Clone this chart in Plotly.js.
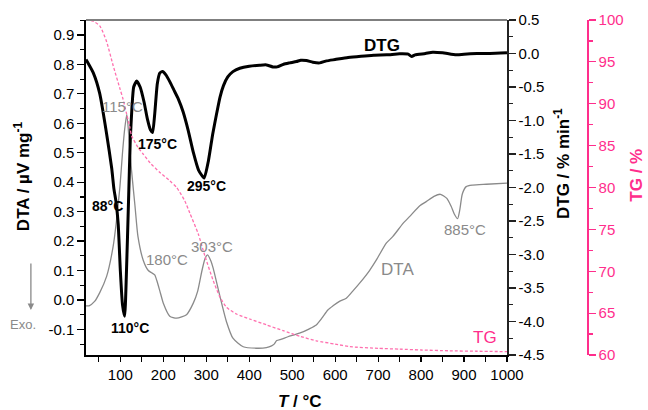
<!DOCTYPE html>
<html>
<head>
<meta charset="utf-8">
<script src="https://cdn.plot.ly/plotly-3.0.1.min.js"></script>
<style>
  html, body { margin: 0; padding: 0; background: #fff; }
  #chart { width: 648px; height: 410px; }
</style>
</head>
<body>
<div id="chart"></div>
<script>
// Temperature (°C) and DTA signal (µV/mg)
const tDTA = [20, 27, 40, 52, 68, 83, 91, 99, 105, 110, 115, 120, 126, 134, 141, 153, 165, 172, 180, 185, 192, 200, 215, 231, 254, 270, 280, 290, 297, 303, 310, 316, 331, 347, 362, 386, 417, 440, 452, 458, 464, 475, 490, 517, 540, 556, 570, 583, 595, 610, 626, 641, 657, 680, 696, 719, 734, 758, 773, 797, 812, 830, 845, 860, 870, 877, 885, 890, 896, 905, 920, 952, 1000];
const dta = [-0.02, -0.02, -0.005, 0.025, 0.08, 0.18, 0.27, 0.385, 0.5, 0.58, 0.63, 0.55, 0.44, 0.32, 0.215, 0.136, 0.10, 0.093, 0.085, 0.065, 0.03, -0.011, -0.055, -0.062, -0.05, -0.01, 0.03, 0.1, 0.14, 0.153, 0.135, 0.108, 0.017, -0.074, -0.13, -0.159, -0.164, -0.162, -0.156, -0.15, -0.138, -0.133, -0.125, -0.113, -0.098, -0.085, -0.06, -0.034, -0.02, -0.005, 0.006, 0.03, 0.057, 0.10, 0.136, 0.193, 0.215, 0.26, 0.283, 0.32, 0.334, 0.352, 0.359, 0.345, 0.318, 0.293, 0.276, 0.305, 0.36, 0.385, 0.39, 0.393, 0.397];

// Temperature (°C) and DTG (% / min)
const tDTG = [20, 37, 52, 68, 80, 85, 90, 95, 100, 105, 110, 114, 119, 123, 127, 131, 138, 146, 155, 163, 170, 175, 180, 186, 192, 198, 206, 215, 225, 235, 246, 258, 270, 282, 295, 305, 315, 324, 332, 340, 350, 362, 378, 400, 424, 440, 455, 465, 480, 494, 510, 520, 533, 548, 564, 580, 600, 630, 660, 690, 720, 750, 770, 778, 786, 810, 827, 850, 870, 885, 900, 930, 960, 1000];
const dtg = [-0.09, -0.29, -0.6, -1.2, -1.72, -2.02, -2.22, -2.55, -3.25, -3.75, -3.92, -3.3, -2.2, -1.3, -0.8, -0.5, -0.41, -0.5, -0.72, -0.98, -1.14, -1.18, -0.9, -0.45, -0.29, -0.27, -0.32, -0.42, -0.55, -0.68, -0.87, -1.15, -1.48, -1.74, -1.86, -1.6, -1.2, -0.9, -0.65, -0.48, -0.35, -0.27, -0.22, -0.19, -0.175, -0.17, -0.2, -0.2, -0.16, -0.14, -0.12, -0.10, -0.105, -0.13, -0.14, -0.11, -0.09, -0.06, -0.04, -0.025, -0.02, -0.005, -0.01, -0.045, -0.02, 0.0, 0.02, 0.01, -0.01, -0.02, -0.01, 0.0, 0.0, 0.01];

// Temperature (°C) and TG mass (%)
const tTG = [20, 35, 52, 68, 83, 99, 106, 114, 122, 126, 141, 153, 170, 192, 215, 231, 250, 262, 281, 297, 316, 331, 347, 370, 401, 440, 479, 520, 556, 600, 634, 700, 750, 800, 866, 930, 1000];
const tg = [100, 99.9, 99.3, 97.4, 94.6, 91.8, 90.6, 88.9, 87.2, 86.2, 84.8, 84.0, 82.9, 81.8, 80.8, 80.0, 78.4, 76.9, 74.5, 71.8, 68.9, 67.0, 65.7, 64.9, 64.3, 63.6, 62.9, 62.2, 61.7, 61.3, 61.0, 60.8, 60.7, 60.6, 60.5, 60.45, 60.4];

// Tick labels
const xTicks = [100, 200, 300, 400, 500, 600, 700, 800, 900, 1000];
const dtaTicks = [-0.1, 0.0, 0.1, 0.2, 0.3, 0.4, 0.5, 0.6, 0.7, 0.8, 0.9];
const dtaTickText = ['-0.1', '0.0', '0.1', '0.2', '0.3', '0.4', '0.5', '0.6', '0.7', '0.8', '0.9'];
const dtgTicks = [-4.5, -4.0, -3.5, -3.0, -2.5, -2.0, -1.5, -1.0, -0.5, 0.0, 0.5];
const dtgTickText = ['-4.5', '-4.0', '-3.5', '-3.0', '-2.5', '-2.0', '-1.5', '-1.0', '-0.5', '0.0', '0.5'];
const tgTicks = [60, 65, 70, 75, 80, 85, 90, 95, 100];

// Peak labels: [T, DTA-axis height, text, colour, size, bold]
const peakLabels = [
  [708, 0.863, 'DTG', '#000', 17, true],
  [106, 0.656, '115°C', '#8a8a8a', 15, false],
  [187, 0.53, '175°C', '#000', 14, true],
  [301, 0.386, '295°C', '#000', 14, true],
  [71, 0.319, '88°C', '#000', 14, true],
  [122, -0.095, '110°C', '#000', 14, true],
  [208, 0.136, '180°C', '#8a8a8a', 15, false],
  [313, 0.18, '303°C', '#8a8a8a', 15, false],
  [744, 0.102, 'DTA', '#8a8a8a', 17, false],
  [902, 0.238, '885°C', '#8a8a8a', 15, false],
  [948, -0.126, 'TG', '#ff2e8c', 17, false]
];

const FONT = 'Liberation Sans, Arial, Helvetica, sans-serif';
const PINK = '#ff2e8c';
const GREY = '#8a8a8a';
const XDOM = 0.8403;

const traces = [
  {
    x: tDTA, y: dta, type: 'scatter', mode: 'lines', yaxis: 'y',
    line: { color: GREY, width: 1.3, shape: 'spline', smoothing: 0.6 }
  },
  {
    x: tTG, y: tg, type: 'scatter', mode: 'lines', yaxis: 'y3',
    line: { color: '#ff6fae', width: 1.3, dash: '3px,2px', shape: 'spline', smoothing: 0.6 }
  },
  {
    x: tDTG, y: dtg, type: 'scatter', mode: 'lines', yaxis: 'y2',
    line: { color: '#000', width: 3, shape: 'spline', smoothing: 0.5 }
  }
];

const annotations = peakLabels.map(p => ({
  x: p[0], y: p[1], xref: 'x', yref: 'y',
  text: p[5] ? '<b>' + p[2] + '</b>' : p[2],
  showarrow: false, xanchor: 'center', yanchor: 'middle',
  font: { family: FONT, size: p[4], color: p[3] }
}));

annotations.push(
  {
    xref: 'paper', yref: 'paper', x: -0.1277, y: 0.534, textangle: -90,
    text: '<b>DTA / µV mg<sup>-1</sup></b>', showarrow: false,
    xanchor: 'center', yanchor: 'middle',
    font: { family: FONT, size: 17, color: '#000' }
  },
  {
    xref: 'paper', yref: 'paper', x: 0.950, y: 0.573, textangle: -90,
    text: '<b>DTG / % min<sup>-1</sup></b>', showarrow: false,
    xanchor: 'center', yanchor: 'middle',
    font: { family: FONT, size: 17, color: '#000' }
  },
  {
    xref: 'paper', yref: 'paper', x: 1.099, y: 0.537, textangle: -90,
    text: '<b>TG / %</b>', showarrow: false,
    xanchor: 'center', yanchor: 'middle',
    font: { family: FONT, size: 17, color: PINK }
  },
  {
    xref: 'paper', yref: 'paper', x: 0.427, y: -0.139,
    text: '<b><i>T</i> / °C</b>', showarrow: false,
    xanchor: 'center', yanchor: 'middle',
    font: { family: FONT, size: 17, color: '#000' }
  },
  {
    xref: 'paper', yref: 'paper', x: -0.110, y: 0.134,
    ax: 0, ay: -48, text: '', showarrow: true,
    arrowhead: 2, arrowsize: 1, arrowwidth: 1.3, arrowcolor: GREY
  },
  {
    xref: 'paper', yref: 'paper', x: -0.1257, y: 0.0896,
    text: 'Exo.', showarrow: false, xanchor: 'center', yanchor: 'middle',
    font: { family: FONT, size: 13, color: GREY }
  }
);

const layout = {
  width: 648, height: 410,
  margin: { l: 86, r: 61, t: 20, b: 55, pad: 0 },
  paper_bgcolor: '#fff', plot_bgcolor: '#fff',
  showlegend: false,
  font: { family: FONT, size: 15, color: '#000' },
  xaxis: {
    domain: [0, XDOM], range: [20, 1000],
    tickmode: 'array', tickvals: xTicks,
    ticks: 'outside', ticklen: 5, tickwidth: 1.2, tickcolor: '#000',
    minor: { tickmode: 'linear', tick0: 0, dtick: 50, ticks: 'outside', ticklen: 5, tickwidth: 1.2, tickcolor: '#000' },
    showline: true, linecolor: '#000', linewidth: 1.6,
    showgrid: false, zeroline: false,
    tickfont: { family: FONT, size: 15, color: '#000' }
  },
  yaxis: {
    range: [-0.187, 0.951],
    tickmode: 'array', tickvals: dtaTicks, ticktext: dtaTickText,
    ticks: 'outside', ticklen: 7, tickwidth: 1.2, tickcolor: '#000',
    minor: { tickmode: 'linear', tick0: 0, dtick: 0.05, ticks: 'outside', ticklen: 4, tickwidth: 1.2, tickcolor: '#000' },
    showline: true, linecolor: '#000', linewidth: 1.6,
    showgrid: false, zeroline: false,
    tickfont: { family: FONT, size: 15, color: '#000' }
  },
  yaxis2: {
    overlaying: 'y', side: 'right', anchor: 'x',
    range: [-4.5, 0.5],
    tickmode: 'array', tickvals: dtgTicks, ticktext: dtgTickText,
    ticks: 'outside', ticklen: 7, tickwidth: 1.2, tickcolor: '#222',
    minor: { tickmode: 'linear', tick0: 0, dtick: 0.25, ticks: 'outside', ticklen: 4, tickwidth: 1.2, tickcolor: '#222' },
    showline: true, linecolor: '#222', linewidth: 1.6,
    showgrid: false, zeroline: false,
    tickfont: { family: FONT, size: 15, color: '#000' }
  },
  yaxis3: {
    overlaying: 'y', side: 'right', anchor: 'free', position: 1,
    range: [60, 100],
    tickmode: 'array', tickvals: tgTicks,
    ticks: 'outside', ticklen: 7, tickwidth: 1.2, tickcolor: PINK,
    minor: { tickmode: 'linear', tick0: 0, dtick: 2.5, ticks: 'outside', ticklen: 4, tickwidth: 1.2, tickcolor: PINK },
    showline: true, linecolor: PINK, linewidth: 1.6,
    showgrid: false, zeroline: false,
    tickfont: { family: FONT, size: 15, color: PINK }
  },
  shapes: [
    {
      type: 'line', xref: 'paper', yref: 'paper',
      x0: 0, x1: XDOM, y0: 1, y1: 1,
      line: { color: '#7f7f7f', width: 2 }
    }
  ],
  annotations: annotations
};

Plotly.newPlot('chart', traces, layout, { staticPlot: true, displayModeBar: false });
</script>
</body>
</html>
